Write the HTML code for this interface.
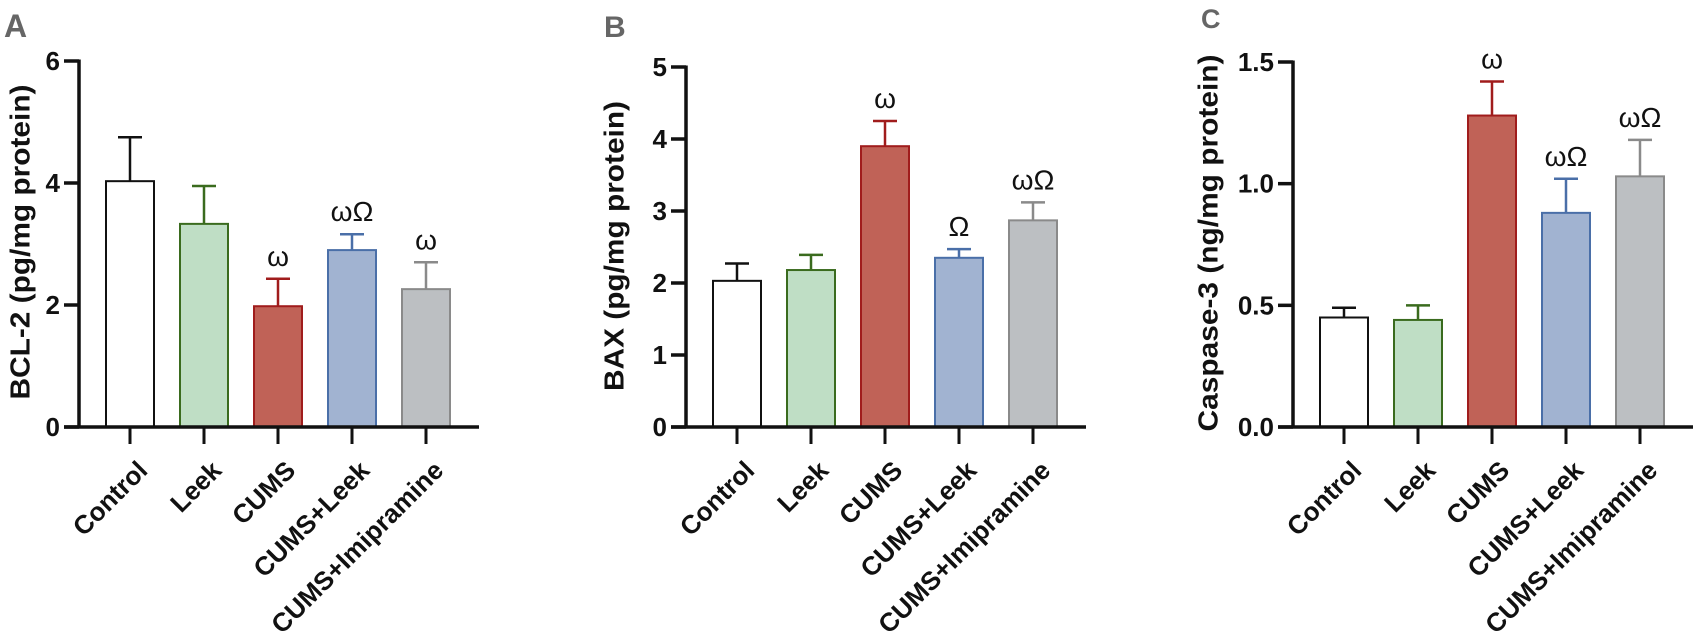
<!DOCTYPE html>
<html><head><meta charset="utf-8"><style>
body{margin:0;background:#fff;}
svg{display:block;font-family:"Liberation Sans",Arial,sans-serif;}
</style></head><body>
<svg id="chart" width="1699" height="643" viewBox="0 0 1699 643" xmlns="http://www.w3.org/2000/svg"></svg>
<script>
const categories = ["Control","Leek","CUMS","CUMS+Leek","CUMS+Imipramine"];
const bcl2Means = [4.03,3.33,1.98,2.9,2.26];
const bcl2Errs = [4.75,3.95,2.43,3.16,2.7];
const bcl2Sig = ["","","ω","ωΩ","ω"];
const bcl2Ticks = [0,2,4,6];
const baxMeans = [2.03,2.18,3.9,2.35,2.87];
const baxErrs = [2.27,2.39,4.25,2.47,3.12];
const baxSig = ["","","ω","Ω","ωΩ"];
const baxTicks = [0,1,2,3,4,5];
const caspMeans = [0.45,0.44,1.28,0.88,1.03];
const caspErrs = [0.49,0.50,1.42,1.02,1.18];
const caspSig = ["","","ω","ωΩ","ωΩ"];
const caspTicks = ["0.0","0.5","1.0","1.5"];

const fills=["#ffffff","#bfdec5","#c06257","#a1b3d1","#bcbfc2"];
const strokes=["#111111","#3a6b1e","#a01c1c","#4a6fa8","#8a8a8a"];
const svg=document.getElementById('chart');
const NS="http://www.w3.org/2000/svg";
function mk(tag,attrs,parent){const e=document.createElementNS(NS,tag);for(const k in attrs)e.setAttribute(k,attrs[k]);(parent||svg).appendChild(e);return e;}

const panels=[
 {key:"a",letter:"A",lx:4,ly:37,fs:32,title:"BCL-2 (pg/mg protein)",tlen:315,tcy:242,means:bcl2Means,errs:bcl2Errs,sig:bcl2Sig,ticks:bcl2Ticks,max:6,top:61,labelX:20},
 {key:"b",letter:"B",lx:604,ly:37,fs:30,title:"BAX (pg/mg protein)",tlen:290,tcy:246,means:baxMeans,errs:baxErrs,sig:baxSig,ticks:baxTicks,max:5,top:67,labelX:614},
 {key:"c",letter:"C",lx:1201,ly:28,fs:27,title:"Caspase-3 (ng/mg protein)",tlen:377,tcy:243,means:caspMeans,errs:caspErrs,sig:caspSig,ticks:caspTicks,max:1.5,top:62,labelX:1208}
];
const BASE=427;
panels.forEach((p,k)=>{
  const ox=607*k, axX=79+ox;
  const g=mk('g',{});
  
  
  const y=v=>BASE-(v/p.max)*(BASE-p.top);
  const xc=i=>106+ox+24+74*i;
  const L=mk('text',{x:p.lx,y:p.ly,'font-size':p.fs,'font-weight':'bold',fill:'#666'},g);
  L.textContent=p.letter;
  
  
  p.means.forEach((m,i)=>{
    const e=p.errs[i];
    const el=mk('line',{x1:xc(i),x2:xc(i),y1:y(m),y2:y(e),stroke:strokes[i],'stroke-width':2.5},g);
    
    
    const cap=mk('line',{x1:xc(i)-12,x2:xc(i)+12,y1:y(e),y2:y(e),stroke:strokes[i],'stroke-width':2.5},g);
    
    
    const r=mk('rect',{x:xc(i)-24,y:y(m),width:48,height:BASE-y(m),fill:fills[i],stroke:strokes[i],'stroke-width':2},g);
    
    
    if(p.sig[i]){
      const s=mk('text',{x:xc(i),y:y(e)-13,'text-anchor':'middle','font-size':28,fill:'#111'},g);
      s.textContent=p.sig[i];
      
      
    }
    const t=mk('line',{x1:xc(i),x2:xc(i),y1:BASE,y2:BASE+17,stroke:'#111','stroke-width':3},g);
    
    
    const lx=xc(i)+19, ly=BASE+45;
    const lab=mk('text',{x:lx,y:ly,'text-anchor':'end','font-size':26,'font-weight':'bold',fill:'#111',transform:`rotate(-45 ${lx} ${ly})`},g);
    lab.textContent=categories[i];
    
    
  });
  const ya=mk('line',{x1:axX,x2:axX,y1:p.top-1.5,y2:BASE+1.5,stroke:'#111','stroke-width':3.5},g);
  
  
  const xa=mk('line',{x1:axX-15,x2:479+ox,y1:BASE,y2:BASE,stroke:'#111','stroke-width':3.5},g);
  
  
  p.ticks.forEach(tv=>{
    const v=parseFloat(tv);
    const tl=mk('line',{x1:axX-15,x2:axX,y1:y(v),y2:y(v),stroke:'#111','stroke-width':3.5},g);
    
    
    const tt=mk('text',{x:axX-19,y:y(v)+9,'text-anchor':'end','font-size':26,'font-weight':'bold',fill:'#111'},g);
    tt.textContent=tv;
    
    
  });
  const yt=mk('text',{x:p.labelX,y:p.tcy,'text-anchor':'middle','font-size':28,'font-weight':'bold',fill:'#111',textLength:p.tlen,lengthAdjust:'spacingAndGlyphs','dominant-baseline':'central',transform:`rotate(-90 ${p.labelX} ${p.tcy})`},g);
  yt.textContent=p.title;
  
  
});
</script>
</body></html>
